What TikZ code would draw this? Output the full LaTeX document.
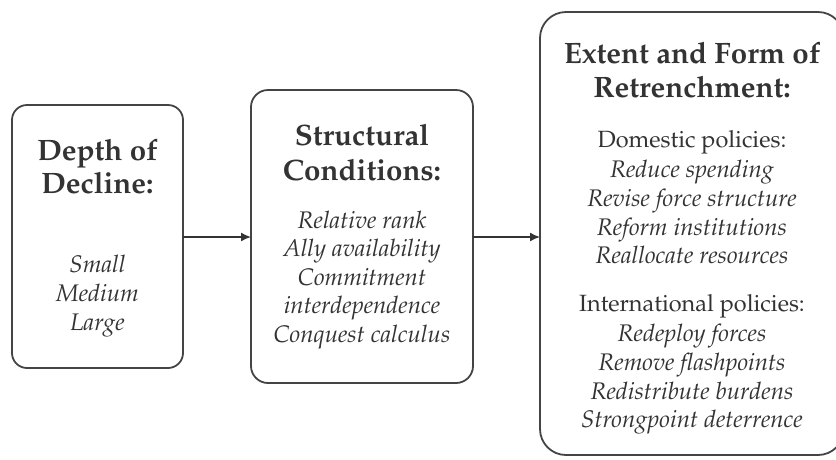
\documentclass[tikz,border=0pt]{standalone}
\usepackage[T1]{fontenc}
\usepackage{mathpazo}
\usetikzlibrary{arrows.meta}
\definecolor{ink}{HTML}{333333}
\definecolor{rule}{HTML}{444444}
\tikzset{
  panel/.style={draw=rule, line width=1.8pt, rounded corners=#1},
  line/.style={text=ink, anchor=base, inner sep=0pt},
  head/.style={line, font=\fontsize{29.5}{34}\selectfont\bfseries},
  item/.style={line, font=\fontsize{24}{28.5}\selectfont\itshape},
  plain/.style={line, font=\fontsize{23.5}{28.5}\selectfont},
  link/.style={draw=ink, line width=1.5pt, -{Latex[length=10pt,width=9pt]}}
}
\begin{document}
\begin{tikzpicture}[x=1pt,y=-1pt]
\useasboundingbox (0,0) rectangle (836,459);

% the three stages (the last one runs past the right edge)
\draw[panel=15pt] (12,105) rectangle (183,368);
\draw[panel=17pt] (251,90) rectangle (473,383);
\draw[panel=26pt] (540,12) rectangle (844,455);
\coordinate (b1e) at (183,237);
\coordinate (b2w) at (251,237);
\coordinate (b2e) at (473,237);
\coordinate (b3w) at (540,237);

% stage 1
\node[head] (h1a) at (97.5,160) {Depth of};
\node[head] (h1b) at (97.5,193) {Decline:};
\node[item] (t1a) at (97.5,272) {Small};
\node[item] (t1b) at (97.5,301) {Medium};
\node[item] (t1c) at (97.5,330) {Large};

% stage 2
\node[head] (h2a) at (362,145) {Structural};
\node[head] (h2b) at (362,180) {Conditions:};
\node[item] (t2a) at (362,228) {Relative rank};
\node[item] (t2b) at (362,256.5) {Ally availability};
\node[item] (t2c) at (362,285) {Commitment};
\node[item] (t2d) at (362,313.5) {interdependence};
\node[item] (t2e) at (362,342) {Conquest calculus};

% stage 3
\node[head] (h3a) at (692,63) {Extent and Form of};
\node[head] (h3b) at (692,97) {Retrenchment:};
\node[plain] (d3) at (692,147) {Domestic policies:};
\node[item] (t3a) at (692,177) {Reduce spending};
\node[item] (t3b) at (692,206) {Revise force structure};
\node[item] (t3c) at (692,235) {Reform institutions};
\node[item] (t3d) at (692,263) {Reallocate resources};
\node[plain] (i3) at (692,311) {International policies:};
\node[item] (u3a) at (692,341) {Redeploy forces};
\node[item] (u3b) at (692,370) {Remove flashpoints};
\node[item] (u3c) at (692,399) {Redistribute burdens};
\node[item] (u3d) at (692,427) {Strongpoint deterrence};

% flow
\draw[link] (b1e) -- (b2w);
\draw[link] (b2e) -- (b3w);
\end{tikzpicture}
\end{document}
